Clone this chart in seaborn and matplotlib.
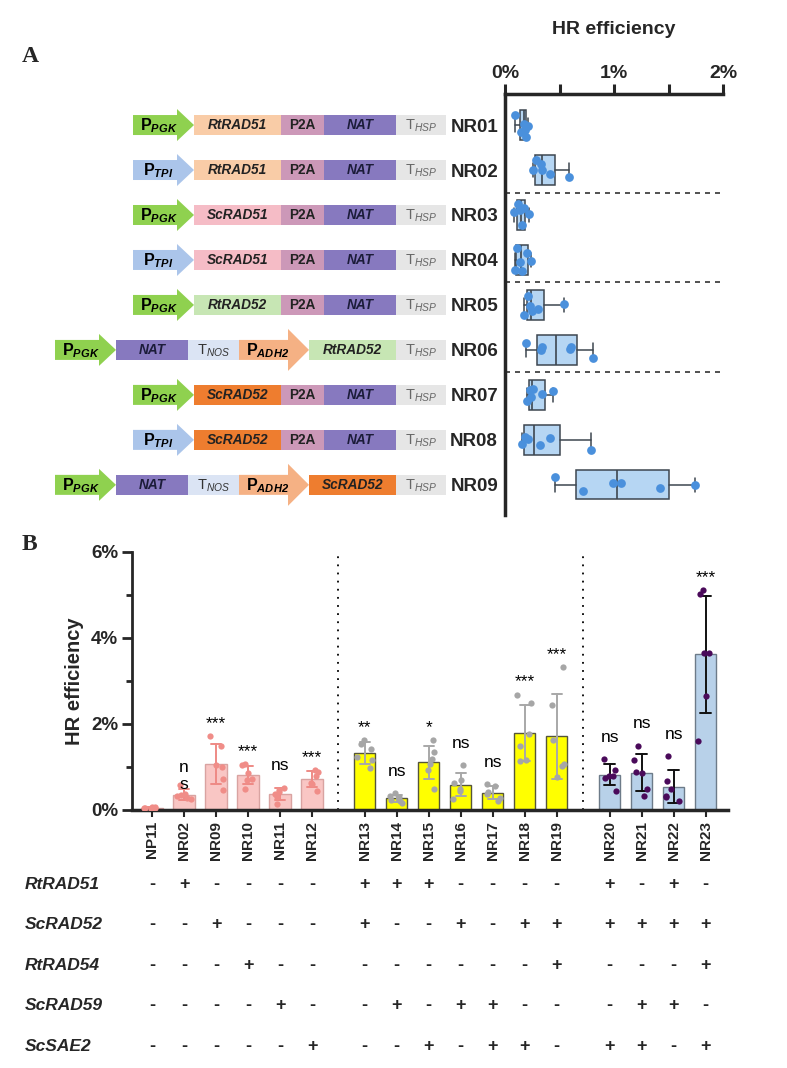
import numpy as np
import pandas as pd
import matplotlib
matplotlib.use("Agg")
import matplotlib.pyplot as plt
import matplotlib.transforms as mtransforms
from matplotlib.patches import Polygon, Rectangle
import seaborn as sns

#%% Panel A data (HR efficiency, %)
constructs_a = ["NR01", "NR02", "NR03", "NR04", "NR05", "NR06", "NR07", "NR08", "NR09"]
hr_a = [
    [0.09, 0.15, 0.17, 0.18, 0.19, 0.21],
    [0.26, 0.28, 0.33, 0.34, 0.41, 0.59],
    [0.08, 0.12, 0.14, 0.16, 0.17, 0.22],
    [0.09, 0.11, 0.14, 0.16, 0.20, 0.24],
    [0.17, 0.21, 0.23, 0.25, 0.30, 0.54],
    [0.19, 0.33, 0.34, 0.60, 0.61, 0.81],
    [0.20, 0.23, 0.24, 0.26, 0.34, 0.44],
    [0.16, 0.18, 0.21, 0.32, 0.41, 0.79],
    [0.46, 0.72, 0.99, 1.06, 1.42, 1.74],
]
parts_a = [
    ["PGK", "RtRAD51", "P2A", "NAT", "HSP"],
    ["TPI", "RtRAD51", "P2A", "NAT", "HSP"],
    ["PGK", "ScRAD51", "P2A", "NAT", "HSP"],
    ["TPI", "ScRAD51", "P2A", "NAT", "HSP"],
    ["PGK", "RtRAD52", "P2A", "NAT", "HSP"],
    ["PGK", "NAT", "NOS", "ADH2", "RtRAD52", "HSP"],
    ["PGK", "ScRAD52", "P2A", "NAT", "HSP"],
    ["TPI", "ScRAD52", "P2A", "NAT", "HSP"],
    ["PGK", "NAT", "NOS", "ADH2", "ScRAD52", "HSP"],
]
sep_a = [1.5, 3.5, 5.5]

#%% Panel B data
names_b = ["NP11", "NR02", "NR09", "NR10", "NR11", "NR12",
           "NR13", "NR14", "NR15", "NR16", "NR17", "NR18", "NR19",
           "NR20", "NR21", "NR22", "NR23"]
group_b = [0] * 6 + [1] * 7 + [2] * 4
hr_b = [
    [0.03, 0.04, 0.05, 0.05, 0.06, 0.07],
    [0.25, 0.28, 0.32, 0.35, 0.38, 0.58],
    [0.46, 0.73, 0.99, 1.04, 1.48, 1.72],
    [0.50, 0.69, 0.73, 0.85, 1.04, 1.06],
    [0.14, 0.31, 0.38, 0.42, 0.47, 0.52],
    [0.45, 0.60, 0.62, 0.80, 0.88, 0.92],
    [0.97, 1.16, 1.23, 1.42, 1.54, 1.62],
    [0.17, 0.20, 0.24, 0.30, 0.33, 0.39],
    [0.50, 0.93, 1.06, 1.18, 1.35, 1.62],
    [0.25, 0.45, 0.48, 0.62, 0.70, 1.05],
    [0.22, 0.27, 0.37, 0.42, 0.56, 0.60],
    [1.15, 1.16, 1.50, 1.77, 2.49, 2.68],
    [0.76, 1.03, 1.08, 1.63, 2.45, 3.32],
    [0.44, 0.75, 0.79, 0.80, 0.92, 1.19],
    [0.32, 0.50, 0.85, 0.89, 1.16, 1.50],
    [0.20, 0.30, 0.33, 0.48, 0.68, 1.25],
    [1.60, 2.65, 3.65, 3.66, 5.02, 5.12],
]
sig_b = ["", "n\ns", "***", "***", "ns", "***",
         "**", "ns", "*", "ns", "ns", "***", "***",
         "ns", "ns", "ns", "***"]

genes_b = ["RtRAD51", "ScRAD52", "RtRAD54", "ScRAD59", "ScSAE2"]
rtrad51 = "-+----" + "+++----" + "+-+-"
scrad52 = "--+---" + "+--+-++" + "++++"
rtrad54 = "---+--" + "------+" + "---+"
scrad59 = "----+-" + "-+-++--" + "-++-"
scsae2 = "-----+" + "--+-++-" + "++-+"
table_b = [rtrad51, scrad52, rtrad54, scrad59, scsae2]

#%% Style
sns.set_theme(style="ticks")
plt.rcParams["font.family"] = ["Liberation Sans", "DejaVu Sans"]
plt.rcParams["mathtext.fontset"] = "custom"
plt.rcParams["mathtext.rm"] = "Liberation Sans"
plt.rcParams["mathtext.it"] = "Liberation Sans:italic"
plt.rcParams["mathtext.bf"] = "Liberation Sans:bold"
plt.rcParams["mathtext.bfit"] = "Liberation Sans:italic:bold"

W, H = 787, 1068
fig = plt.figure(figsize=(W / 100, H / 100), dpi=100)


def px_axes(left, top, right, bottom):
    return fig.add_axes([left / W, 1 - bottom / H, (right - left) / W, (bottom - top) / H])


#%% Panel A - construct drawings
PART = {
    "PGK": dict(kind="arrow", w=61, fc="#8fd14f", txt=r"$\mathbf{P}_{\mathbfit{PGK}}$", tc="black"),
    "TPI": dict(kind="arrow", w=61, fc="#abc5ea", txt=r"$\mathbf{P}_{\mathbfit{TPI}}$", tc="black"),
    "ADH2": dict(kind="arrow", w=70, fc="#f5b184", txt=r"$\mathbf{P}_{\mathbfit{ADH2}}$", tc="black"),
    "RtRAD51": dict(kind="box", w=87, fc="#f9cca7", txt="RtRAD51", tc="#222222", it=True),
    "ScRAD51": dict(kind="box", w=87, fc="#f5bcc6", txt="ScRAD51", tc="#222222", it=True),
    "RtRAD52": dict(kind="box", w=87, fc="#c7e6b4", txt="RtRAD52", tc="#222222", it=True),
    "ScRAD52": dict(kind="box", w=87, fc="#ee7d2f", txt="ScRAD52", tc="#222222", it=True),
    "P2A": dict(kind="box", w=43, fc="#cc98b8", txt="P2A", tc="#222222", it=False),
    "NAT": dict(kind="box", w=72, fc="#8779bf", txt="NAT", tc="#1c1c3a", it=True),
    "NOS": dict(kind="box", w=51, fc="#dbe4f4", txt=r"$\mathrm{T}_{\mathit{NOS}}$", tc="#333333", it=False),
    "HSP": dict(kind="box", w=50, fc="#e6e6e6", txt=r"$\mathrm{T}_{\mathit{HSP}}$", tc="#666666", it=False),
}
END_X = 446
ROW_PX = 45.0
ylim_a = (8.67, -0.69)

ax_d = px_axes(0, 94, 505, 515)
ax_d.set_xlim(0, 505)
ax_d.set_ylim(*ylim_a)
ax_d.axis("off")

for row, parts in enumerate(parts_a):
    x = END_X - sum(PART[p]["w"] for p in parts)
    for p in parts:
        st = PART[p]
        w = st["w"]
        hs = 10 / ROW_PX
        if st["kind"] == "arrow":
            hl = 21 if p == "ADH2" else 17
            hh = (21 if p == "ADH2" else 16) / ROW_PX
            pts = [(x, row - hs), (x + w - hl, row - hs), (x + w - hl, row - hh),
                   (x + w, row), (x + w - hl, row + hh), (x + w - hl, row + hs), (x, row + hs)]
            ax_d.add_patch(Polygon(pts, closed=True, fc=st["fc"], ec="none"))
            ax_d.text(x + (w - hl * 0.6) / 2, row + 0.02, st["txt"], ha="center", va="center",
                      fontsize=11.5, color=st["tc"])
        else:
            ax_d.add_patch(Rectangle((x, row - hs), w, 2 * hs, fc=st["fc"], ec="none"))
            if st["txt"].startswith("$"):
                ax_d.text(x + w / 2, row + 0.02, st["txt"], ha="center", va="center",
                          fontsize=10.5, color=st["tc"])
            else:
                ax_d.text(x + w / 2, row, st["txt"], ha="center", va="center", fontsize=9.8,
                          fontweight="bold", fontstyle="italic" if st["it"] else "normal",
                          color=st["tc"])
        x += w

#%% Panel A - box plot
df_a = pd.DataFrame({
    "construct": np.repeat(constructs_a, [len(v) for v in hr_a]),
    "hr": np.concatenate(hr_a),
})

ax_a = px_axes(505, 94, 723, 515)
np.random.seed(7)
sns.stripplot(data=df_a, x="hr", y="construct", order=constructs_a, color="#4a90dc",
              size=6.3, jitter=0.27, linewidth=0, zorder=3, ax=ax_a)

stats = []
for v in hr_a:
    q1, med, q3 = np.percentile(v, [25, 50, 75], method="weibull")
    stats.append(dict(med=med, q1=q1, q3=q3, whislo=min(v), whishi=max(v), fliers=[]))
ax_a.bxp(stats, positions=range(len(stats)), orientation="horizontal", widths=0.65,
         patch_artist=True, showfliers=False, capwidths=0.3,
         boxprops=dict(facecolor="#b6d6f3", edgecolor="#3d4650", linewidth=1.1),
         medianprops=dict(color="#3d4650", linewidth=1.2),
         whiskerprops=dict(color="#3d4650", linewidth=1.1),
         capprops=dict(color="#3d4650", linewidth=1.1), zorder=2)

for y in sep_a:
    ax_a.axhline(y, color="#333333", lw=1.2, ls=(0, (3, 3)), zorder=1)

ax_a.set_xlim(0, 2)
ax_a.set_ylim(*ylim_a)
ax_a.xaxis.tick_top()
ax_a.set_xticks([0, 1, 2])
ax_a.set_xticklabels(["0%", "1%", "2%"], fontsize=14, fontweight="bold")
ax_a.set_xticks([0.5, 1.5], minor=True)
ax_a.tick_params(axis="x", which="both", direction="out", length=7, width=2.2, pad=2,
                 top=True, bottom=False)
ax_a.set_yticks(range(len(constructs_a)))
ax_a.set_yticklabels(constructs_a, fontsize=13.5, fontweight="bold")
ax_a.tick_params(axis="y", length=0, pad=5)
ax_a.set_xlabel("")
ax_a.set_ylabel("")
for s in ["right", "bottom"]:
    ax_a.spines[s].set_visible(False)
ax_a.spines["top"].set_linewidth(2.5)
ax_a.spines["left"].set_linewidth(2.5)
ax_a.set_facecolor("none")
fig.text(614 / W, 1 - 30 / H, "HR efficiency", ha="center", va="center",
         fontsize=14, fontweight="bold")

#%% Panel B - bars
GAP = 0.65
pos_b = [i + g * GAP for i, g in enumerate(group_b)]
df_b = pd.DataFrame({
    "name": np.repeat(names_b, [len(v) for v in hr_b]),
    "pos": np.repeat(pos_b, [len(v) for v in hr_b]),
    "group": np.repeat(group_b, [len(v) for v in hr_b]),
    "hr": np.concatenate(hr_b),
})
bar_col = ["#f9c6c4", "#ffff00", "#b8d1e9"]
edge_col = ["#d9a3a1", "#55553a", "#6d7b89"]
err_col = ["#ee8a85", "#a8a8a8", "#111111"]
pt_col = ["#f08d88", "#a6a6a6", "#4a0a5a"]

ax_b = px_axes(132, 552, 728, 810)
for g in range(3):
    sub = df_b[df_b["group"] == g]
    sns.barplot(data=sub, x="pos", y="hr", native_scale=True, errorbar="sd", capsize=0.33,
                width=0.66, color=bar_col[g], edgecolor=edge_col[g], linewidth=1,
                saturation=1, err_kws={"color": err_col[g], "linewidth": 1.4}, ax=ax_b)
    sns.stripplot(data=sub, x="pos", y="hr", native_scale=True, color=pt_col[g], size=4.5,
                  jitter=0.25, linewidth=0, zorder=4, ax=ax_b)

for gb in [5 + GAP / 2 + 0.5, 12 + GAP * 1.5 + 0.5]:
    ax_b.axvline(gb, color="black", lw=1.3, ls=(0, (1, 3.5)), zorder=0)

for p, v, s in zip(pos_b, hr_b, sig_b):
    if not s:
        continue
    top = max(max(v), np.mean(v) + np.std(v, ddof=1))
    if "*" in s:
        off = 0.12
    elif "\n" in s:
        off = -0.15
    else:
        off = 0.33
    ax_b.text(p, top + off, s, ha="center", va="bottom", fontsize=12.5,
              linespacing=1.1, color="black", zorder=5)

ax_b.set_xlim(-0.625, 18.0)
ax_b.set_ylim(0, 6)
ax_b.set_xticks(pos_b)
ax_b.set_xticklabels(names_b, rotation=90, fontsize=11, fontweight="bold")
ax_b.set_yticks([0, 2, 4, 6])
ax_b.set_yticklabels(["0%", "2%", "4%", "6%"], fontsize=13.5, fontweight="bold")
ax_b.set_yticks([1, 3, 5], minor=True)
ax_b.tick_params(axis="y", which="major", length=7, width=2, pad=3)
ax_b.tick_params(axis="y", which="minor", length=4.5, width=2)
ax_b.tick_params(axis="x", length=5, width=1.5, pad=3)
ax_b.set_xlabel("")
ax_b.set_ylabel("HR efficiency", fontsize=14.5, fontweight="bold", labelpad=5)
for s in ["right", "top"]:
    ax_b.spines[s].set_visible(False)
ax_b.spines["left"].set_linewidth(2)
ax_b.spines["bottom"].set_linewidth(2.5)

#%% Panel B - table of genes
ax_t = px_axes(132, 865, 728, 1066)
ax_t.set_xlim(-0.625, 18.0)
ax_t.set_ylim(4.49, -0.47)
ax_t.axis("off")
tr = mtransforms.blended_transform_factory(fig.transFigure, ax_t.transData)
for r, (gene, row) in enumerate(zip(genes_b, table_b)):
    ax_t.text(25 / W, r, gene, transform=tr, ha="left", va="center", fontsize=12.5,
              fontweight="bold", fontstyle="italic")
    for p, ch in zip(pos_b, row):
        ax_t.text(p, r, ch, ha="center", va="center", fontsize=13, fontweight="bold")

#%% Panel letters
for lab, ypx in [("A", 57), ("B", 545)]:
    fig.text(22 / W, 1 - ypx / H, lab, ha="left", va="center", fontsize=17,
             fontweight="bold", family=["Liberation Serif", "DejaVu Serif"])

fig.savefig("out.png", dpi=100)
